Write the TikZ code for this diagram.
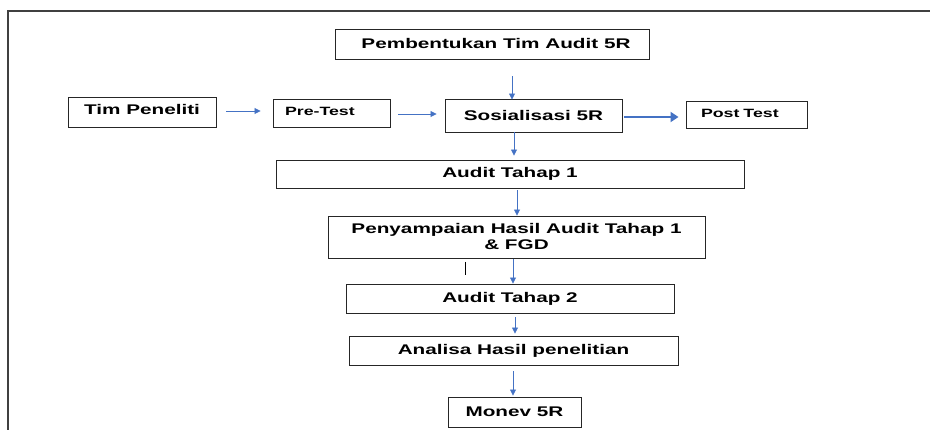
\documentclass[tikz,border=0pt]{standalone}
\usepackage{fontspec}
\setmainfont{Liberation Sans}[FakeStretch=1.48]
\usetikzlibrary{arrows.meta}
\definecolor{flowblue}{RGB}{68,114,196}

\begin{document}
\begin{tikzpicture}[x=1pt, y=-1pt,
	box/.style={draw=black!85, line width=0.9pt, inner sep=0pt, align=center, font=\fontsize{14}{16}\selectfont\bfseries},
	smallbox/.style={box, align=left, text depth=3pt, font=\fontsize{12}{14}\selectfont\bfseries},
	flow/.style={draw=flowblue, line width=0.8pt, -{Triangle[length=6pt, width=6pt]}},
	bigflow/.style={draw=flowblue, line width=1.8pt, -{Triangle[length=8pt, width=10pt]}}]
	\useasboundingbox (0, 0) rectangle (930, 430);
	% Frame:
	\draw[black!75, line width=1.2pt] (930, 11) -- (8, 11) -- (8, 430);
	% Boxes:
	\node[box, minimum width=314pt, minimum height=30pt] (pembentukan) at (492, 44) {\hspace{8pt}Pembentukan Tim Audit 5R};
	\node[box, minimum width=148pt, minimum height=30pt, text depth=5pt] (timpeneliti) at (142, 112) {Tim Peneliti};
	\node[smallbox, minimum width=117pt, minimum height=28pt, inner xsep=12pt, text width=93pt] (pretest) at (331.5, 113) {Pre-Test};
	\node[box, minimum width=177pt, minimum height=33pt] (sosialisasi) at (533.5, 115.5) {Sosialisasi 5R};
	\node[smallbox, minimum width=121pt, minimum height=27pt, inner xsep=15pt, text width=91pt] (posttest) at (746.5, 114.5) {Post Test};
	\node[box, minimum width=468pt, minimum height=28pt] (audit1) at (510, 174) {Audit Tahap 1};
	\node[box, minimum width=377pt, minimum height=42pt, text depth=1pt] (penyampaian) at (516.5, 237) {Penyampaian Hasil Audit Tahap 1\\\& FGD};
	\node[box, minimum width=328pt, minimum height=29pt] (audit2) at (510, 298.5) {Audit Tahap 2};
	\node[box, minimum width=329pt, minimum height=29pt] (analisa) at (513.5, 350.5) {Analisa Hasil penelitian};
	\node[box, minimum width=133pt, minimum height=30pt] (monev) at (514.5, 412) {Monev 5R};
	% Arrows:
	\draw[flow, shorten <=17pt, shorten >=-1pt] (pembentukan.south -| 512, 0) -- (sosialisasi.north -| 512, 0);
	\draw[flow, shorten <=10pt, shorten >=12pt] (timpeneliti.east |- 0, 111) -- (pretest.west |- 0, 111);
	\draw[flow, shorten <=8pt, shorten >=8pt] (pretest.east |- 0, 114) -- (sosialisasi.west |- 0, 114);
	\draw[bigflow, shorten <=2pt, shorten >=7pt] (sosialisasi.east |- 0, 117) -- (posttest.west |- 0, 117);
	\draw[flow, shorten >=4pt] (sosialisasi.south -| 514, 0) -- (audit1.north -| 514, 0);
	\draw[flow, shorten <=2pt] (audit1.south -| 517, 0) -- (penyampaian.north -| 517, 0);
	\draw[flow, shorten <=1pt] (penyampaian.south -| 513, 0) -- (audit2.north -| 513, 0);
	\draw[flow, shorten <=4pt, shorten >=2pt] (audit2.south -| 515, 0) -- (analisa.north -| 515, 0);
	\draw[flow, shorten <=6pt, shorten >=1pt] (analisa.south -| 513, 0) -- (monev.north -| 513, 0);
	% Stray mark below the FGD box:
	\draw[line width=0.8pt] (465, 262) -- (465, 275);
\end{tikzpicture}
\end{document}
